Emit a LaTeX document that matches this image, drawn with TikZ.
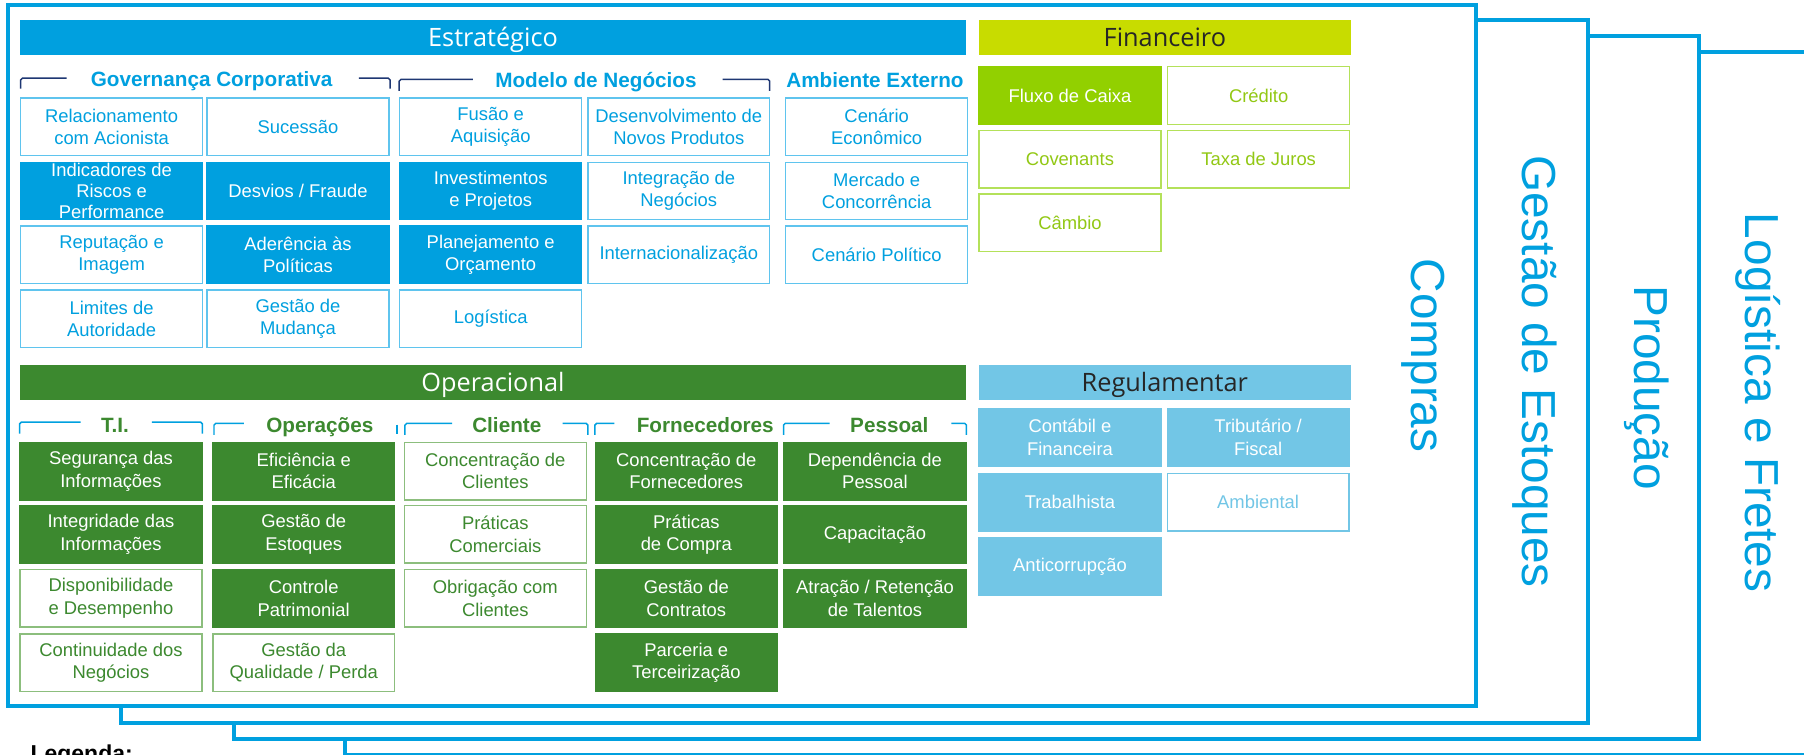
\documentclass[tikz,border=0pt]{standalone}
\usepackage{fontspec}
\setmainfont{Liberation Sans}
\newfontfamily\headfont{Open Sans}
\usetikzlibrary{positioning}

\definecolor{estrblue}{RGB}{0,160,223}
\definecolor{estrline}{RGB}{95,196,238}
\definecolor{navyline}{RGB}{30,55,115}
\definecolor{limebar}{RGB}{200,220,0}
\definecolor{limefill}{RGB}{146,208,0}
\definecolor{limetext}{RGB}{146,200,20}
\definecolor{limeline}{RGB}{180,225,90}
\definecolor{opgreen}{RGB}{60,137,47}
\definecolor{opline}{RGB}{140,190,125}
\definecolor{regblue}{RGB}{114,198,230}
\definecolor{darktext}{RGB}{38,38,38}

\begin{document}
\begin{tikzpicture}[ % 1 unit = 1 pixel of the layout, y grows downwards
x=1pt, y=-1pt,
frame_line/.style={draw=estrblue, line width=3.5pt, fill=white},
side_text/.style={rotate=-90, text=estrblue, font=\fontsize{41.5}{48}\selectfont},
head_bar/.style={rectangle, inner sep=0pt, minimum height=30.5pt, text height=20pt, text depth=4.3pt, font=\headfont\fontsize{22}{26}\selectfont},
estr_box/.style={rectangle, draw=estrline, line width=1.2pt, fill=white, text=estrblue, minimum width=158pt, minimum height=50pt, inner sep=0pt, align=center, font=\fontsize{16}{19.5}\selectfont},
estr_fill/.style={estr_box, draw=estrblue, fill=estrblue, text=white},
lime_box/.style={estr_box, draw=limeline, text=limetext},
lime_fill/.style={estr_box, draw=limefill, fill=limefill, text=white},
op_box/.style={estr_box, draw=opline, text=opgreen},
op_fill/.style={estr_box, draw=opgreen, fill=opgreen, text=white},
reg_box/.style={estr_box, draw=regblue, text=regblue},
reg_fill/.style={estr_box, draw=regblue, fill=regblue, text=white},
sub_head/.style={anchor=base, font=\bfseries\fontsize{18}{22}\selectfont},
bracket_dark/.style={draw=navyline, line width=1.3pt, rounded corners=1.5pt},
bracket_blue/.style={draw=estrblue, line width=1.3pt, rounded corners=1.5pt}
]
\useasboundingbox (0,0) rectangle (1568,656);
\clip (0,0) rectangle (1568,656);

% stacked frames, back to front
\draw[frame_line] (300,45) rectangle (1640,656);
\draw[frame_line] (203,31) rectangle (1477,642);
\draw[frame_line] (105,17) rectangle (1380,628);
\draw[frame_line] (7,4) rectangle (1283,614);

\node[side_text](compras) at (1237,309) {Compras};
\node[side_text](gestao_estoques_frame) at (1334,323) {Gestão de Estoques};
\node[side_text](producao) at (1431,337) {Produção};
\node[side_text](logistica_fretes) at (1528,350) {Logística e Fretes};

% Estrategico
\node[head_bar, fill=estrblue, text=white, minimum width=823pt](estrategico) at (428.5,32.75) {Estratégico};

\node[sub_head, text=estrblue](governanca) at (184,75.5) {Governança Corporativa};
\node[sub_head, text=estrblue](modelo) at (518,76) {Modelo de Negócios};
\node[sub_head, text=estrblue](ambiente) at (760.5,76) {Ambiente Externo};

\draw[bracket_dark] (18,77) -- (18,68) -- (58,68);
\draw[bracket_dark] (312,68) -- (339,68) -- (339,77);
\draw[bracket_dark] (347,79) -- (347,69) -- (411,69);
\draw[bracket_dark] (628,69) -- (669,69) -- (669,79);

\node[estr_box](relacionamento) at (97,110.25) {Relacionamento\\com Acionista};
\node[estr_box](sucessao) at (259,110.25) {Sucessão};
\node[estr_fill, font=\fontsize{16}{18.5}\selectfont](indicadores) at (97,166) {Indicadores de\\Riscos e\\Performance};
\node[estr_fill](desvios) at (259,166) {Desvios / Fraude};
\node[estr_box](reputacao) at (97,221.5) {Reputação e\\Imagem};
\node[estr_fill](aderencia) at (259,221.5) {Aderência às\\Políticas};
\node[estr_box](limites) at (97,277) {Limites de\\Autoridade};
\node[estr_box](gestao_mudanca) at (259,277) {Gestão de\\Mudança};

\node[estr_box](fusao) at (426.5,110.25) {Fusão e\\Aquisição};
\node[estr_fill](investimentos) at (426.5,166) {Investimentos\\e Projetos};
\node[estr_fill](planejamento) at (426.5,221.5) {Planejamento e\\Orçamento};
\node[estr_box](logistica) at (426.5,277) {Logística};

\node[estr_box](desenvolvimento) at (590,110.25) {Desenvolvimento de\\Novos Produtos};
\node[estr_box](integracao) at (590,166) {Integração de\\Negócios};
\node[estr_box](internacionalizacao) at (590,221.5) {Internacionalização};

\node[estr_box](cenario_economico) at (762,110.25) {Cenário\\Econômico};
\node[estr_box](mercado) at (762,166) {Mercado e\\Concorrência};
\node[estr_box](cenario_politico) at (762,221.5) {Cenário Político};

% Financeiro
\node[head_bar, fill=limebar, text=darktext, minimum width=323pt](financeiro) at (1012.5,32.75) {Financeiro};

\node[lime_fill](fluxo) at (930,83) {Fluxo de Caixa};
\node[lime_box](credito) at (1094,83) {Crédito};
\node[lime_box](covenants) at (930,138.5) {Covenants};
\node[lime_box](taxa_juros) at (1094,138.5) {Taxa de Juros};
\node[lime_box](cambio) at (930,193.5) {Câmbio};

% Operacional
\node[head_bar, fill=opgreen, text=white, minimum width=823pt](operacional) at (428.5,332.4) {Operacional};

\node[sub_head, text=opgreen](ti) at (100,375.5) {T.I.};
\node[sub_head, text=opgreen](operacoes) at (278,376) {Operações};
\node[sub_head, text=opgreen](cliente) at (440.5,376) {Cliente};
\node[sub_head, text=opgreen](fornecedores) at (613,376) {Fornecedores};
\node[sub_head, text=opgreen](pessoal) at (773,375.5) {Pessoal};

\draw[bracket_blue] (17,377) -- (17,367) -- (70,367);
\draw[bracket_blue] (132,367) -- (176,367) -- (176,377);
\draw[bracket_blue] (186,378) -- (186,368) -- (212,368);
\draw[bracket_blue] (345,369) -- (345,377);
\draw[bracket_blue] (352,378) -- (352,368) -- (393,368);
\draw[bracket_blue] (489,368) -- (511,368) -- (511,378);
\draw[bracket_blue] (517,378) -- (517,368) -- (534,368);
\draw[bracket_blue] (681,378) -- (681,368) -- (721,368);
\draw[bracket_blue] (827,368) -- (840,368) -- (840,378);

\node[op_fill](seguranca) at (96.5,409.5) {Segurança das\\Informações};
\node[op_fill](integridade) at (96.5,464.5) {Integridade das\\Informações};
\node[op_box](disponibilidade) at (96.5,520) {Disponibilidade\\e Desempenho};
\node[op_box](continuidade) at (96.5,576) {Continuidade dos\\Negócios};

\node[op_fill](eficiencia) at (264,409.5) {Eficiência e\\Eficácia};
\node[op_fill](gestao_estoques) at (264,464.5) {Gestão de\\Estoques};
\node[op_fill](controle) at (264,520) {Controle\\Patrimonial};
\node[op_box](qualidade) at (264,576) {Gestão da\\Qualidade / Perda};

\node[op_box](conc_clientes) at (430.5,409.5) {Concentração de\\Clientes};
\node[op_box](praticas_comerciais) at (430.5,464.5) {Práticas\\Comerciais};
\node[op_box](obrigacao) at (430.5,520) {Obrigação com\\Clientes};

\node[op_fill](conc_fornecedores) at (596.5,409.5) {Concentração de\\Fornecedores};
\node[op_fill](praticas_compra) at (596.5,464.5) {Práticas\\de Compra};
\node[op_fill](gestao_contratos) at (596.5,520) {Gestão de\\Contratos};
\node[op_fill](parceria) at (596.5,576) {Parceria e\\Terceirização};

\node[op_fill](dependencia) at (760.5,409.5) {Dependência de\\Pessoal};
\node[op_fill](capacitacao) at (760.5,464.5) {Capacitação};
\node[op_fill](atracao) at (760.5,520) {Atração / Retenção\\de Talentos};

% Regulamentar
\node[head_bar, fill=regblue, text=darktext, minimum width=323pt](regulamentar) at (1012.5,332.4) {Regulamentar};

\node[reg_fill](contabil) at (930,380) {Contábil e\\Financeira};
\node[reg_fill](tributario) at (1093.5,380) {Tributário /\\Fiscal};
\node[reg_fill](trabalhista) at (930,436.5) {Trabalhista};
\node[reg_box](ambiental) at (1093.5,436.5) {Ambiental};
\node[reg_fill](anticorrupcao) at (930,492.5) {Anticorrupção};

\node[anchor=base west, font=\bfseries\fontsize{20}{24}\selectfont](legenda) at (23,662) {Legenda:};

\end{tikzpicture}
\end{document}
